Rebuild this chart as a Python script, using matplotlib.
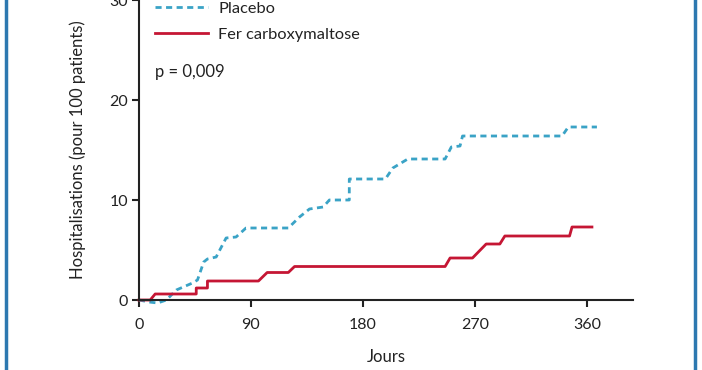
import numpy as np
import matplotlib
matplotlib.use("Agg")
import matplotlib.pyplot as plt
from matplotlib.lines import Line2D

plt.rcParams['font.family'] = ['Lato', 'DejaVu Sans']

# step curves (day, hospitalisations per 100 patients)
placebo_days = [0, 8, 15, 22, 30, 43, 47, 52, 55, 62, 70, 78, 86, 120, 129, 137,
                148, 153, 169, 169, 198, 204, 216, 246, 251, 258, 260, 340, 345, 368]
placebo_vals = [0, -0.2, -0.3, 0, 1.0, 1.7, 2.0, 3.8, 4.1, 4.3, 6.2, 6.3, 7.2, 7.2, 8.3, 9.1,
                9.3, 10.0, 10.0, 12.1, 12.1, 13.2, 14.1, 14.1, 15.3, 15.4, 16.4, 16.4, 17.3, 17.3]

fcm_days = [0, 9, 13, 46, 46, 55, 55, 96, 103, 120, 125, 246, 250, 268, 279, 290,
            294, 346, 348, 364]
fcm_vals = [0, 0, 0.6, 0.6, 1.2, 1.2, 1.9, 1.9, 2.75, 2.75, 3.35, 3.35, 4.2, 4.2, 5.6, 5.6,
            6.4, 6.4, 7.3, 7.3]

xticks = [0, 90, 180, 270, 360]
yticks = [0, 10, 20, 30]

fig = plt.figure(figsize=(7.02, 3.70), dpi=100)
ax = fig.add_axes([139 / 702, 70 / 370, 494 / 702, 300 / 370])

blue = '#3aa3c6'
red = '#c51634'
ink = '#222222'

ax.plot(placebo_days, placebo_vals, color=blue, lw=2.0, dashes=(2.2, 1.6),
        clip_on=False, label='Placebo')
ax.plot(fcm_days, fcm_vals, color=red, lw=2.0, clip_on=False,
        label='Fer carboxymaltose')

ax.set_xlim(0, 397)
ax.set_ylim(0, 30)
ax.set_xticks(xticks)
ax.set_yticks(yticks)
ax.spines['top'].set_visible(False)
ax.spines['right'].set_visible(False)
for s in ('left', 'bottom'):
    ax.spines[s].set_linewidth(1.5)
    ax.spines[s].set_color(ink)
ax.tick_params(length=5, width=1.5, color=ink, labelsize=11.5, labelcolor=ink)
ax.tick_params(axis='x', pad=8)
ax.tick_params(axis='y', pad=3)

ax.set_xlabel('Jours', fontsize=12, color=ink, labelpad=12)
ax.set_ylabel('Hospitalisations (pour 100 patients)', fontsize=12, color=ink, labelpad=17)

leg = ax.legend(loc='upper left', bbox_to_anchor=(0.003, 1.045), frameon=False,
                fontsize=11.8, handlelength=3.2, handletextpad=0.65, labelspacing=0.72,
                labelcolor=ink)
ax.text(0.033, 0.76, 'p = 0,009', transform=ax.transAxes, fontsize=12, color=ink,
        va='center')

# blue frame on the left and right sides
border = '#2d78b0'
fig.add_artist(Line2D([5.5 / 702, 5.5 / 702], [0, 1], color=border, lw=2.5))
fig.add_artist(Line2D([694.5 / 702, 694.5 / 702], [0, 1], color=border, lw=2.5))

fig.savefig('out.png', dpi=100, facecolor='white')
